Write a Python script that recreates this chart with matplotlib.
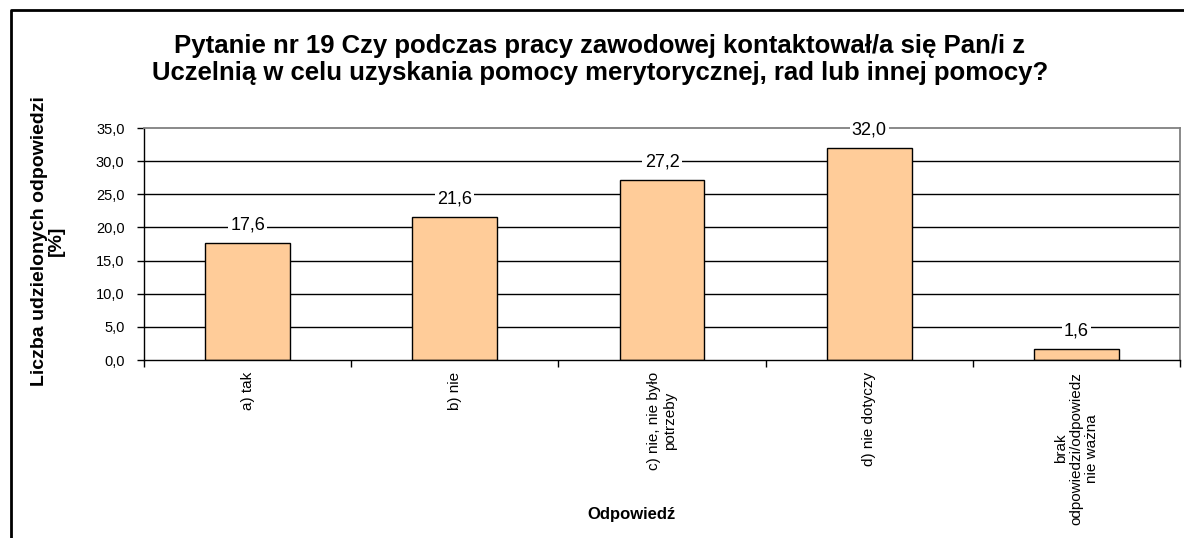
import matplotlib
matplotlib.use("Agg")
import matplotlib.pyplot as plt
from matplotlib.lines import Line2D

categories = ["a) tak", "b) nie", "c) nie, nie było\npotrzeby", "d) nie dotyczy",
              "brak\nodpowiedzi/odpowiedz\nnie ważna"]
values = [17.6, 21.6, 27.2, 32.0, 1.6]
yticks = [0, 5, 10, 15, 20, 25, 30, 35]
title = ("Pytanie nr 19 Czy podczas pracy zawodowej kontaktował/a się Pan/i z\n"
         "Uczelnią w celu uzyskania pomocy merytorycznej, rad lub innej pomocy?")
ylabel = "Liczba udzielonych odpowiedzi\n[%]"
xlabel = "Odpowiedź"

plt.rcParams['font.family'] = ['Liberation Sans', 'DejaVu Sans']

W, H = 1184, 538
fig = plt.figure(figsize=(W / 100, H / 100), dpi=100)
ax = fig.add_axes([144 / W, 1 - 360 / H, (1180 - 144) / W, (360 - 128) / H])

x = list(range(len(categories)))
ax.bar(x, values, width=0.41, color="#FFCC99", edgecolor="black", linewidth=1.0, zorder=3)
ax.set_xlim(-0.5, len(categories) - 0.5)
ax.set_ylim(0, 35)

ax.set_yticks(yticks)
ax.set_yticklabels([f"{v:.1f}".replace(".", ",") for v in yticks], fontsize=10.5)
for v in yticks[1:-1]:
    ax.axhline(v, color="black", linewidth=1.0, zorder=1)

ax.set_xticks([i + 0.5 for i in range(-1, len(categories))], minor=False)
ax.set_xticklabels([""] * (len(categories) + 1))
ax.set_xticks(x, minor=True)
ax.set_xticklabels(categories, minor=True, rotation=90, fontsize=11,
                   va="top", ha="center", multialignment="center", linespacing=1.1)
ax.tick_params(axis="x", which="minor", length=0, pad=8.5)
ax.tick_params(axis="x", which="major", length=5, width=1, direction="out", color="black")
ax.tick_params(axis="y", length=5, width=1, direction="out", pad=9)

for s in ["top", "right"]:
    ax.spines[s].set_color("#808080")
    ax.spines[s].set_linewidth(1.3)
for s in ["left", "bottom"]:
    ax.spines[s].set_color("black")
    ax.spines[s].set_linewidth(1.0)
ax.spines["bottom"].set_zorder(4)

for xi, v in zip(x, values):
    ax.annotate(f"{v:.1f}".replace(".", ","), (xi, v), xytext=(0, 13),
                textcoords="offset points", ha="center", va="center", fontsize=13,
                bbox=dict(facecolor="white", edgecolor="none", pad=1.5), zorder=5)

fig.text(600 / W, 1 - 59.5 / H, title, ha="center", va="center", fontsize=18.5,
         fontweight="bold", linespacing=1.2)
fig.text(48 / W, 1 - 241 / H, ylabel, ha="center", va="center", rotation=90,
         fontsize=14, fontweight="bold", multialignment="center", linespacing=1.05)
fig.text(632 / W, 1 - 514 / H, xlabel, ha="center", va="center", fontsize=12,
         fontweight="bold")

fig.add_artist(Line2D([11 / W, 11 / W, 1.0], [0.0, 1 - 10 / H, 1 - 10 / H],
                      transform=fig.transFigure, color="black", linewidth=2.0))

fig.savefig("out.png", dpi=100)
